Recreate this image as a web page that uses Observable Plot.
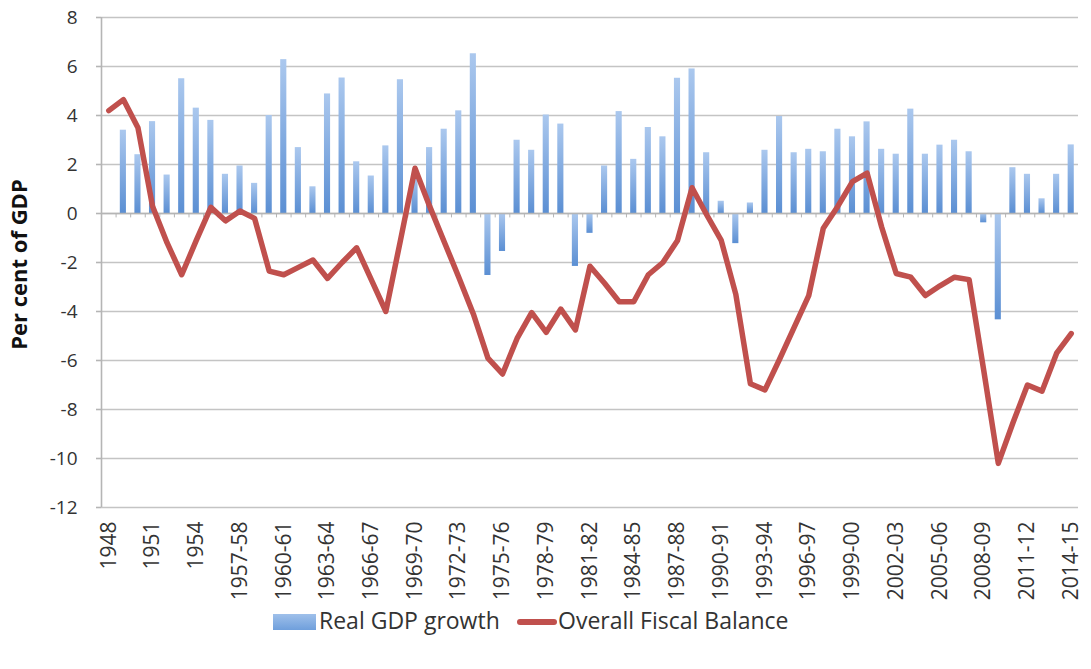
<!DOCTYPE html>
<html>
<head>
<meta charset="utf-8">
<script src="https://cdn.jsdelivr.net/npm/d3@7"></script>
<script src="https://cdn.jsdelivr.net/npm/@observablehq/plot@0.6"></script>
<style>
  html, body { margin: 0; padding: 0; background: #fff; }
  #wrap { position: relative; width: 1091px; height: 669px; font-family: "Open Sans", sans-serif; }
  .lg { position: absolute; font-size: 23px; color: #333; line-height: 1; white-space: nowrap; }
</style>
</head>
<body>
<div id="wrap"></div>
<script>
const categories = [
  "1948","1949","1950","1951","1952","1953","1954","1955","1956",
  "1957-58","1958-59","1959-60","1960-61","1961-62","1962-63","1963-64","1964-65","1965-66",
  "1966-67","1967-68","1968-69","1969-70","1970-71","1971-72","1972-73","1973-74","1974-75",
  "1975-76","1976-77","1977-78","1978-79","1979-80","1980-81","1981-82","1982-83","1983-84",
  "1984-85","1985-86","1986-87","1987-88","1988-89","1989-90","1990-91","1991-92","1992-93",
  "1993-94","1994-95","1995-96","1996-97","1997-98","1998-99","1999-00","2000-01","2001-02",
  "2002-03","2003-04","2004-05","2005-06","2006-07","2007-08","2008-09","2009-10","2010-11",
  "2011-12","2012-13","2013-14","2014-15"
];

const gdpGrowth = [
  null, 3.4, 2.4, 3.75, 1.57, 5.5, 4.3, 3.8, 1.6,
  1.94, 1.23, 4.0, 6.28, 2.69, 1.09, 4.88, 5.53, 2.11,
  1.53, 2.76, 5.46, 1.5, 2.69, 3.44, 4.19, 6.52, -2.53,
  -1.55, 2.99, 2.58, 4.02, 3.65, -2.16, -0.81, 1.94, 4.16,
  2.21, 3.51, 3.13, 5.52, 5.9, 2.48, 0.5, -1.23, 0.43,
  2.58, 3.96, 2.48, 2.62, 2.52, 3.44, 3.13, 3.74, 2.62,
  2.42, 4.26, 2.42, 2.79, 2.99, 2.52, -0.38, -4.34, 1.87,
  1.6, 0.6, 1.6, 2.8
];

const fiscalBalance = [
  4.2, 4.65, 3.5, 0.3, -1.2, -2.5, -1.1, 0.25, -0.3,
  0.1, -0.2, -2.35, -2.5, -2.2, -1.9, -2.65, -2.0, -1.4,
  -2.7, -4.0, -1.1, 1.85, 0.3, -1.15, -2.6, -4.1, -5.9,
  -6.55, -5.1, -4.05, -4.85, -3.9, -4.75, -2.15, -2.85, -3.6,
  -3.6, -2.5, -2.0, -1.1, 1.05, -0.05, -1.1, -3.3, -6.95,
  -7.2, -5.95, -4.65, -3.35, -0.6, 0.3, 1.3, 1.65, -0.55,
  -2.45, -2.6, -3.35, -2.95, -2.6, -2.7, -6.4, -10.2, -8.55,
  -7.0, -7.25, -5.7, -4.9
];

const xTickLabels = [
  "1948","1951","1954","1957-58","1960-61","1963-64","1966-67","1969-70","1972-73",
  "1975-76","1978-79","1981-82","1984-85","1987-88","1990-91","1993-94","1996-97",
  "1999-00","2002-03","2005-06","2008-09","2011-12","2014-15"
];
const yTicks = [-12, -10, -8, -6, -4, -2, 0, 2, 4, 6, 8];

const seriesNames = ["Real GDP growth", "Overall Fiscal Balance"];
const yTitle = "Per cent of GDP";

const data = categories.map((c, i) => ({cat: c, gdp: gdpGrowth[i], fiscal: fiscalBalance[i]}));

const W = 1091, H = 605, mL = 101, mR = 13, mT = 17, mB = H - 507;
const step = (W - mL - mR) / categories.length;

const chart = Plot.plot({
  width: W,
  height: H,
  marginLeft: mL,
  marginRight: mR,
  marginTop: mT,
  marginBottom: mB,
  style: {fontFamily: "Open Sans, sans-serif", color: "#333", background: "#fff", overflow: "visible"},
  x: {type: "band", domain: categories, paddingInner: 0.58, paddingOuter: 0.29, axis: null},
  y: {domain: [-12, 8], axis: null},
  marks: [
    Plot.gridY(yTicks, {stroke: "#c4c4c4", strokeOpacity: 1, strokeWidth: 1.6}),
    Plot.barY(data.filter(d => d.gdp != null), {x: "cat", y: "gdp", fill: "url(#gdpGrad)"}),
    Plot.ruleY([0], {stroke: "#b5b5b5", strokeWidth: 1.6}),
    Plot.ruleX(categories, {x: d => d, y1: 0, y2: -0.18, dx: -step / 2, stroke: "#b5b5b5", strokeWidth: 1}),
    Plot.ruleX([categories[0]], {x: d => d, y1: -12, y2: 8, dx: -step / 2, stroke: "#b5b5b5", strokeWidth: 1.6}),
    Plot.axisY(yTicks, {anchor: "left", tickSize: 5, tickPadding: 19, stroke: "#b5b5b5", strokeWidth: 1.6, fontSize: 19, fill: "#333", label: null, tickFormat: d => String(d)}),
    Plot.axisX(xTickLabels, {anchor: "bottom", tickRotate: -90, tickSize: 0, tickPadding: 14, fontSize: 21, fill: "#333", label: null}),
    Plot.text([yTitle], {frameAnchor: "left", textAnchor: "middle", rotate: -90, dx: -82, dy: 2, fontSize: 22, fontWeight: "bold", fill: "#111"}),
    Plot.line(data, {x: "cat", y: "fiscal", stroke: "#c0504d", strokeWidth: 5.5, strokeLinejoin: "round", strokeLinecap: "round"})
  ]
});

// gradient definition for bars
const svgSel = d3.select(chart);
const defs = svgSel.insert("defs", ":first-child");
const grad = defs.append("linearGradient").attr("id", "gdpGrad")
  .attr("x1", 0).attr("y1", 0).attr("x2", 0).attr("y2", 1);
grad.append("stop").attr("offset", "0%").attr("stop-color", "#abc8ee");
grad.append("stop").attr("offset", "100%").attr("stop-color", "#5b8fd3");

const wrap = document.getElementById("wrap");
wrap.appendChild(chart);

// legend
const lg = d3.select(wrap);
lg.append("div").style("position", "absolute").style("left", "273px").style("top", "614px")
  .style("width", "43px").style("height", "16px")
  .style("background", "linear-gradient(#9fc0ea, #6f9fdc)");
lg.append("div").attr("class", "lg").style("left", "319px").style("top", "609px").text(seriesNames[0]);
lg.append("div").style("position", "absolute").style("left", "517px").style("top", "619px")
  .style("width", "40px").style("height", "6px").style("border-radius", "3px").style("background", "#c0504d");
lg.append("div").attr("class", "lg").style("left", "558px").style("top", "609px").text(seriesNames[1]);
</script>
</body>
</html>
